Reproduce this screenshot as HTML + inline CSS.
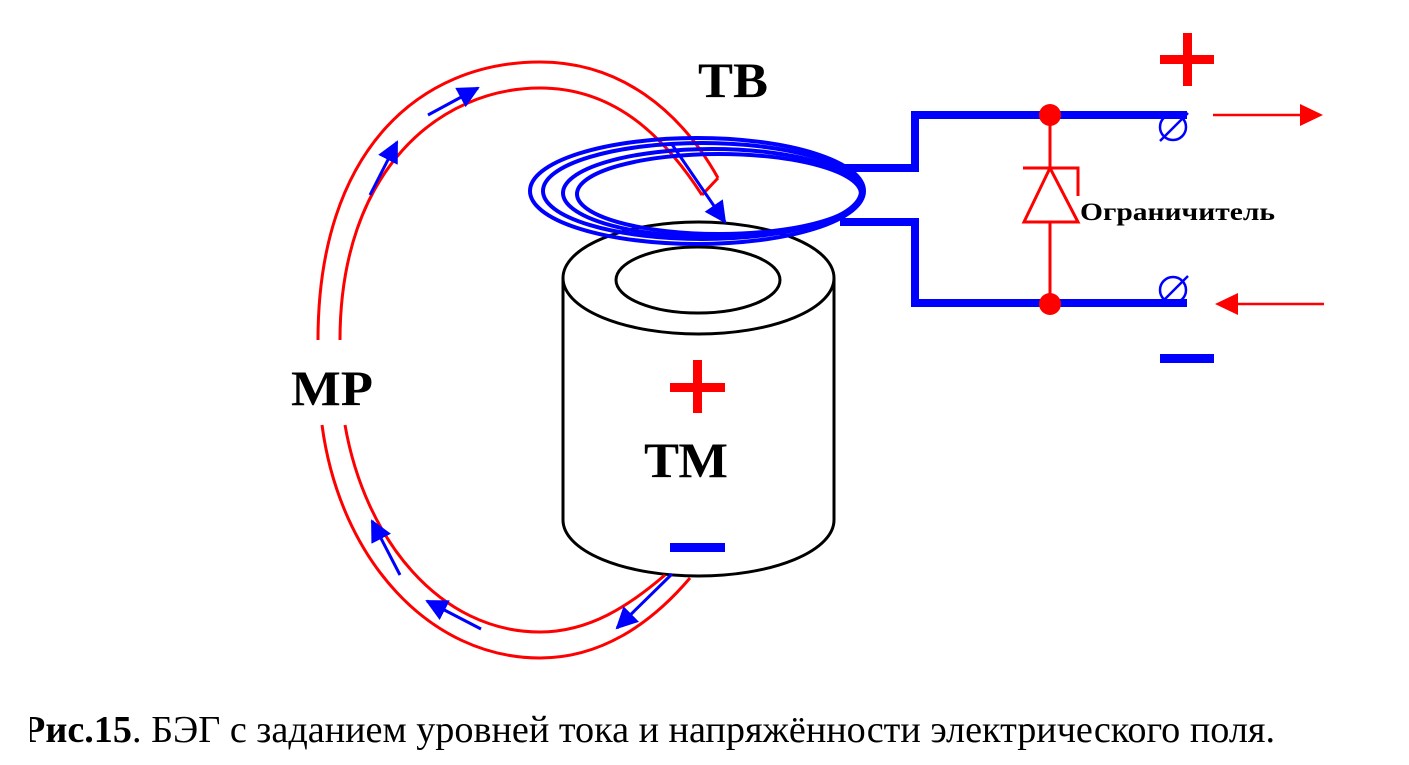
<!DOCTYPE html>
<html><head><meta charset="utf-8"><style>
html,body{margin:0;padding:0;background:#fff;}
svg{display:block;}
</style></head><body>
<svg width="1409" height="765" viewBox="0 0 1409 765" xmlns="http://www.w3.org/2000/svg">
<defs>
<marker id="ab" markerWidth="22" markerHeight="22" refX="20" refY="11" orient="auto" markerUnits="userSpaceOnUse" viewBox="0 0 22 22"><path d="M0,0 L22,11 L0,22 z" fill="#0000ff"/></marker>
</defs>
<!-- cylinder -->
<g fill="none" stroke="#000" stroke-width="3">
<path d="M563,278 L563,520 A135.5,56 0 0 0 834,520 L834,278" fill="#fff"/>
<ellipse cx="698.5" cy="278" rx="135.5" ry="56" fill="#fff"/>
<ellipse cx="698" cy="280" rx="82" ry="33"/>
</g>
<!-- MP channel -->
<g fill="none" stroke="#ff0000" stroke-width="3">
<path d="M318,340 C318,150 420,62 540,62 C620,62 680,110 718,178"/>
<path d="M340,340 C340,170 440,88 540,88 C610,88 660,130 702,195"/>
<path d="M718,178 L702,195"/>
<path d="M322,425 C340,560 430,658 540,658 C600,658 650,625 690,578"/>
<path d="M345,425 C365,540 440,632 540,632 C590,632 630,605 665,575"/>
</g>
<!-- coil -->
<g fill="none" stroke="#0000ff" stroke-width="4">
<ellipse cx="697" cy="191" rx="167" ry="53"/>
<ellipse cx="702" cy="191" rx="159" ry="48"/>
<ellipse cx="712" cy="193" rx="149" ry="44"/>
<ellipse cx="719" cy="194" rx="142" ry="40"/>
</g>
<!-- blue current arrows -->
<g stroke="#0000ff" stroke-width="3" fill="none">
<line x1="428" y1="115" x2="478" y2="88" marker-end="url(#ab)"/>
<line x1="370" y1="195" x2="397" y2="142" marker-end="url(#ab)"/>
<line x1="671" y1="143" x2="725" y2="222" marker-end="url(#ab)"/>
<line x1="400" y1="575" x2="372" y2="521" marker-end="url(#ab)"/>
<line x1="481" y1="629" x2="427" y2="601" marker-end="url(#ab)"/>
<line x1="672" y1="574" x2="617" y2="628" marker-end="url(#ab)"/>
</g>
<!-- circuit wires -->
<g fill="none" stroke="#0000ff" stroke-width="8">
<polyline points="840,168 915,168 915,115 1187,115"/>
<polyline points="840,222 915,222 915,303 1187,303"/>
</g>
<g fill="none" stroke="#0000ff" stroke-width="2.5">
<circle cx="1173" cy="127" r="13"/>
<line x1="1160" y1="141" x2="1188" y2="113"/>
<circle cx="1173" cy="290" r="13"/>
<line x1="1160" y1="304" x2="1188" y2="276"/>
</g>
<!-- diode -->
<g stroke="#ff0000" stroke-width="3" fill="none">
<line x1="1050" y1="115" x2="1050" y2="303"/>
<polygon points="1050,168 1024,222 1078,222" fill="#fff"/>
<polyline points="1023,168 1078,168 1078,196"/>
</g>
<circle cx="1050" cy="115" r="11" fill="#ff0000"/>
<circle cx="1050" cy="304" r="11" fill="#ff0000"/>
<!-- signs -->
<rect x="1160" y="55" width="54" height="9" fill="#ff0000"/>
<rect x="1183" y="33" width="9" height="53" fill="#ff0000"/>
<rect x="1160" y="354" width="54" height="9" fill="#0000ff"/>
<rect x="670" y="383" width="55" height="9" fill="#ff0000"/>
<rect x="693" y="360" width="9" height="53" fill="#ff0000"/>
<rect x="670" y="543" width="55" height="9" fill="#0000ff"/>
<!-- red arrows -->
<line x1="1213" y1="115" x2="1300" y2="115" stroke="#ff0000" stroke-width="2.5"/>
<polygon points="1300,104 1323,115 1300,126" fill="#ff0000"/>
<line x1="1238" y1="304" x2="1324" y2="304" stroke="#ff0000" stroke-width="2.5"/>
<polygon points="1238,293 1215,304 1238,315" fill="#ff0000"/>
<!-- text -->
<g font-family="Liberation Serif, serif" font-weight="bold" fill="#000">
<text x="698" y="97" font-size="50" textLength="70" lengthAdjust="spacingAndGlyphs">ТВ</text>
<text x="291" y="405" font-size="50" textLength="82" lengthAdjust="spacingAndGlyphs">МР</text>
<text x="644" y="477" font-size="50" textLength="84" lengthAdjust="spacingAndGlyphs">ТМ</text>
<text x="1080" y="220" font-size="25" textLength="195" lengthAdjust="spacingAndGlyphs">Ограничитель</text>
</g>
<text x="22" y="742" font-family="Liberation Serif, serif" font-size="38" fill="#000" textLength="1253" lengthAdjust="spacingAndGlyphs"><tspan font-weight="bold">Рис.15</tspan>.  БЭГ с заданием уровней тока и  напряжённости электрического поля.</text>
<rect x="0" y="700" width="30" height="60" fill="#fff"/>
</svg>
</body></html>
